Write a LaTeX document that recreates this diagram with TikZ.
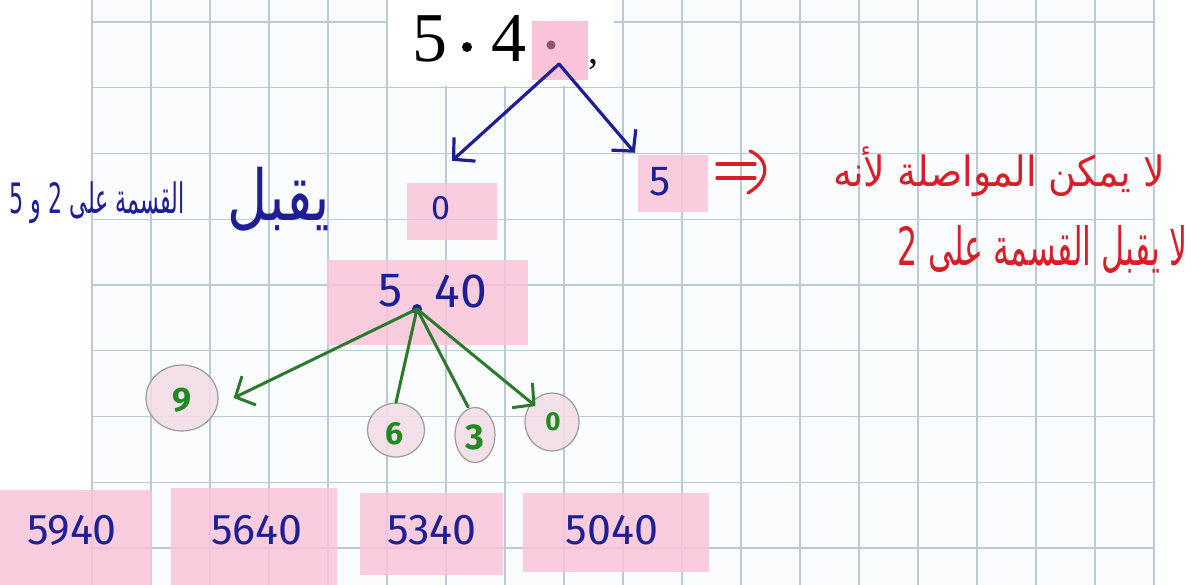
\documentclass[tikz,border=0pt]{standalone}
\usepackage{graphicx}
\usepackage{fontspec}
\usetikzlibrary{arrows.meta,shapes.geometric}
\TeXXeTstate=1
\newfontfamily\arabicfont[Script=Arabic]{DejaVu Sans}
\newfontfamily\printfont{Liberation Serif}
\newfontfamily\handfont{Fira Sans}
\newcommand\fsz[1]{\fontsize{#1}{#1}\selectfont}
\definecolor{paper}{HTML}{FAFCFE}
\definecolor{gridc}{HTML}{BCCAD8}
\definecolor{pinkc}{HTML}{F9C4D9}
\definecolor{ringfill}{HTML}{F4DCE5}
\definecolor{ringline}{HTML}{9C9C9C}
\definecolor{navy}{HTML}{1E1E96}
\definecolor{greenink}{HTML}{2B7A2B}
\definecolor{greendig}{HTML}{1F8A1F}
\definecolor{redink}{HTML}{D81E28}
\definecolor{mauve}{HTML}{8E5570}
\tikzset{
  gridline/.style={draw=gridc, line width=1.2pt},
  pinkbox/.style={rectangle, fill=pinkc, fill opacity=0.85, text opacity=1, inner sep=0pt},
  ring/.style={ellipse, draw=ringline, line width=1.2pt, fill=ringfill, fill opacity=0.85, draw opacity=1, text opacity=1, inner sep=0pt},
  handblue/.style={text=navy, font=\handfont\fsz{43}, inner sep=0pt},
  handgreen/.style={text=greendig, inner sep=0pt},
  bluearrow/.style={draw=navy, line width=3.2pt, line cap=round, line join=round, -{Straight Barb[length=15pt,width=32pt]}},
  greenarrow/.style={draw=greenink, line width=3pt, line cap=round, line join=round, -{Straight Barb[length=15pt,width=32pt]}},
  greenline/.style={draw=greenink, line width=3pt, line cap=round},
  redstroke/.style={draw=redink, line width=3.2pt, line cap=round},
  arabicred/.style={text=redink, inner sep=0pt},
  arabicblue/.style={text=navy, inner sep=0pt},
}
\begin{document}
\begin{tikzpicture}[x=1pt,y=-1pt]
\useasboundingbox (0,0) rectangle (1192,585);
\fill[white] (0,0) rectangle (1192,585);
\fill[paper] (92,0) rectangle (1154,585);

% squared paper
\foreach \k in {0,...,18} \draw[gridline] ({92+59*\k},0) -- ({92+59*\k},585);
\foreach \k in {0,...,8} \draw[gridline] (92,{22+65.75*\k}) -- (1154,{22+65.75*\k});

% printed number at the top
\node[fill=white, minimum width=226pt, minimum height=86pt, inner sep=0pt] (top) at (501,43) {};
\node[font=\printfont\fsz{70}, inner sep=0pt, anchor=base] (d5) at (430,62) {5};
\fill (467,47) circle (5pt);
\node[font=\printfont\fsz{70}, inner sep=0pt, anchor=base] (d4) at (509,62) {4};
\node[rectangle, fill=pinkc, minimum width=56pt, minimum height=59pt, inner sep=0pt] (sq) at (560,50.5) {};
\fill[mauve] (551,45) circle (4.5pt);
\node[font=\printfont\fsz{40}, inner sep=0pt, anchor=base] (cm) at (593,64) {,};
\coordinate (apex) at (559,64);

% first split
\node[pinkbox, minimum width=90pt, minimum height=57pt] (b0) at (452,211.5) {};
\node[handblue, font=\handfont\fsz{34}] (t0) at (441,208) {0};
\node[pinkbox, minimum width=70pt, minimum height=57pt] (b5) at (673,183.5) {};
\node[handblue, font=\handfont\fsz{42}] (t5) at (660,182) {5};
\draw[bluearrow] (apex) -- ([yshift=22pt]b0.north);
\draw[bluearrow] (apex) -- ([xshift=-3pt,yshift=2pt]b5.north west);

% red remark
\draw[redstroke] (717,164) -- (755,164);
\draw[redstroke] (717,178) -- (755,178);
\draw[redstroke] (750,151) .. controls (770,160) and (770,180) .. (748,193);
\node[arabicred] (r1) at (999,172) {\resizebox*{332pt}{50pt}{\arabicfont\beginR لا يمكن المواصلة لأنه\endR}};
\node[arabicred] (r2) at (1043,250) {\resizebox*{290pt}{48pt}{\arabicfont\beginR لا يقبل القسمة على 2\endR}};

% blue remark
\node[arabicblue] (l1) at (279,199) {\resizebox*{102pt}{64pt}{\arabicfont\beginR يقبل\endR}};
\node[arabicblue] (l2) at (97,203) {\resizebox*{175pt}{42pt}{\arabicfont\beginR القسمة على 2 و 5\endR}};

% 5.40 and its four digits
\node[pinkbox, minimum width=201pt, minimum height=85pt] (b540) at (427.5,302.5) {};
\node[handblue, font=\handfont\fsz{48}] (m5) at (391,291) {5};
\node[handblue, font=\handfont\fsz{48}] (m40) at (461,291) {40};
\node[circle, fill=navy, minimum size=10pt, inner sep=0pt] (dot) at (417,309) {};

\node[ring, minimum width=72pt, minimum height=66pt] (c9) at (182,398) {};
\node[handgreen, font=\handfont\bfseries\fsz{34}] at (182,400) {9};
\node[ring, minimum width=57pt, minimum height=54pt] (c6) at (396,430) {};
\node[handgreen, font=\handfont\bfseries\fsz{32}] at (395,434) {6};
\node[ring, minimum width=40pt, minimum height=55pt] (c3) at (475,435) {};
\node[handgreen, font=\handfont\bfseries\fsz{36}] at (475,437) {3};
\node[ring, minimum width=54pt, minimum height=58pt] (c0) at (552,422) {};
\node[handgreen, font=\handfont\bfseries\fsz{26}] at (553,422) {0};

\draw[greenarrow] (dot.center) -- ([xshift=15pt]c9.east);
\draw[greenline] (dot.center) -- (c6.north);
\draw[greenline] (dot.center) -- ([xshift=-7pt]c3.north);
\draw[greenarrow] (dot.center) -- ([xshift=3pt,yshift=-5pt]c0.north west);

% resulting numbers
\node[pinkbox, minimum width=152pt, minimum height=95pt] (r5940) at (76,537.5) {};
\node[handblue] at (72,530) {5940};
\node[pinkbox, minimum width=166pt, minimum height=97pt] (r5640) at (254,536.5) {};
\node[handblue] at (257,530) {5640};
\node[pinkbox, minimum width=143pt, minimum height=82pt] (r5340) at (431.5,534) {};
\node[handblue] at (432,530) {5340};
\node[pinkbox, minimum width=186pt, minimum height=79pt] (r5040) at (616,532.5) {};
\node[handblue] at (612,530) {5040};
\end{tikzpicture}
\end{document}
